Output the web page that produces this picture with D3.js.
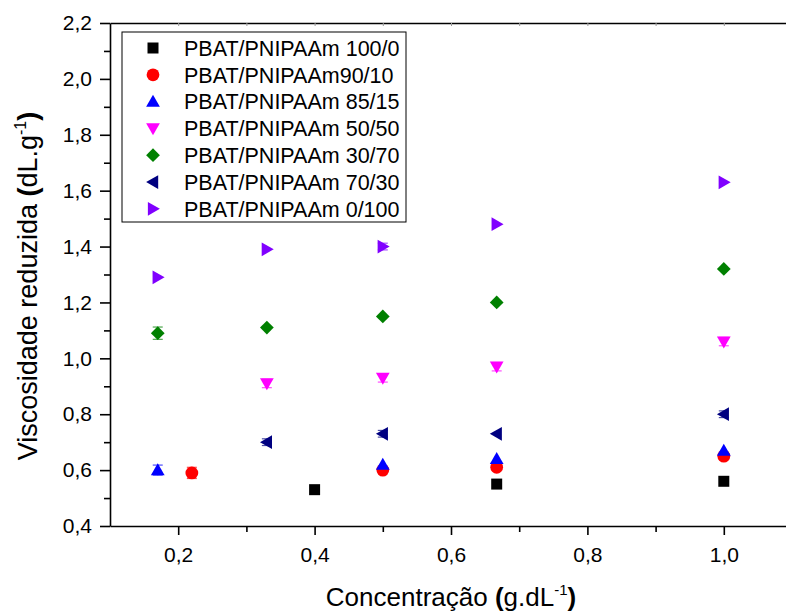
<!DOCTYPE html>
<html>
<head>
<meta charset="utf-8">
<script src="https://cdn.jsdelivr.net/npm/d3@7"></script>
<style>
  body { margin: 0; background: #fff; }
  svg { font-family: "Liberation Sans", Arial, sans-serif; }
  .tick text { font-size: 21px; fill: #000; font-family: "Liberation Sans", Arial, sans-serif; }
  .domain, .tick line { stroke: #000; stroke-width: 1.6px; }
</style>
</head>
<body>
<svg id="chart" width="786" height="614"></svg>
<script>
// series data, x = concentration (g/dL), y = reduced viscosity (dL/g)
var names = ['PBAT/PNIPAAm 100/0', 'PBAT/PNIPAAm90/10', 'PBAT/PNIPAAm 85/15',
             'PBAT/PNIPAAm 50/50', 'PBAT/PNIPAAm 30/70', 'PBAT/PNIPAAm 70/30',
             'PBAT/PNIPAAm 0/100'];
var colors = ['#000000', '#ff0000', '#0000ff', '#ff00ff', '#008000', '#000080', '#8000ff'];
var shapes = ['square', 'circle', 'up', 'down', 'diamond', 'left', 'right'];

var x100_0  = [0.4, 0.667, 1.0],        y100_0  = [0.53, 0.55, 0.56],        e100_0  = [0.005, 0.005, 0.005];
var x90_10  = [0.22, 0.5, 0.667, 1.0],  y90_10  = [0.59, 0.60, 0.61, 0.65],  e90_10  = [0.02, 0.008, 0.008, 0.008];
var x85_15  = [0.17, 0.5, 0.667, 1.0],  y85_15  = [0.60, 0.62, 0.64, 0.67],  e85_15  = [0.018, 0.008, 0.008, 0.008];
var x50_50  = [0.33, 0.5, 0.667, 1.0],  y50_50  = [0.91, 0.93, 0.97, 1.06],  e50_50  = [0.015, 0.015, 0.015, 0.015];
var x30_70  = [0.17, 0.33, 0.5, 0.667, 1.0], y30_70 = [1.09, 1.11, 1.15, 1.20, 1.32], e30_70 = [0.022, 0.005, 0.005, 0.005, 0.005];
var x70_30  = [0.33, 0.5, 0.667, 1.0],  y70_30  = [0.70, 0.73, 0.73, 0.80],  e70_30  = [0.012, 0.012, 0.005, 0.012];
var x0_100  = [0.17, 0.33, 0.5, 0.667, 1.0], y0_100 = [1.29, 1.39, 1.40, 1.48, 1.63], e0_100 = [0.005, 0.005, 0.012, 0.005, 0.005];

var xs = [x100_0, x90_10, x85_15, x50_50, x30_70, x70_30, x0_100];
var ys = [y100_0, y90_10, y85_15, y50_50, y30_70, y70_30, y0_100];
var es = [e100_0, e90_10, e85_15, e50_50, e30_70, e70_30, e0_100];

var xTicks = [0.2, 0.4, 0.6, 0.8, 1.0];
var yTicks = [0.4, 0.6, 0.8, 1.0, 1.2, 1.4, 1.6, 1.8, 2.0, 2.2];

var mLeft = 110, mRight = 792, mTop = 23, mBottom = 526;

var svg = d3.select("#chart");

var x = d3.scaleLinear().domain([0.1, 1.1]).range([mLeft, mRight]);
var y = d3.scaleLinear().domain([0.4, 2.2]).range([mBottom, mTop]);

var comma = function(d) { return d3.format(".1f")(d).replace(".", ","); };

// minor ticks first
svg.append("g")
    .attr("transform", "translate(0," + mBottom + ")")
    .call(d3.axisBottom(x).tickValues([0.3, 0.5, 0.7, 0.9]).tickSize(6).tickFormat(""))
    .select(".domain").remove();
svg.append("g")
    .attr("transform", "translate(" + mLeft + ",0)")
    .call(d3.axisLeft(y).tickValues([0.5, 0.7, 0.9, 1.1, 1.3, 1.5, 1.7, 1.9, 2.1]).tickSize(6).tickFormat(""))
    .select(".domain").remove();

// top mirror line with small ticks
var topAxis = svg.append("g")
    .attr("transform", "translate(0," + mTop + ")")
    .call(d3.axisTop(x).tickValues([0.2, 0.3, 0.4, 0.5, 0.6, 0.7, 0.8, 0.9, 1.0]).tickSize(-3).tickSizeOuter(0).tickFormat(""));
topAxis.selectAll(".tick line").style("stroke", "#999").style("stroke-width", "1px");

// main axes
svg.append("g")
    .attr("transform", "translate(0," + mBottom + ")")
    .call(d3.axisBottom(x).tickValues(xTicks).tickSize(9).tickSizeOuter(0).tickPadding(12).tickFormat(comma));
svg.append("g")
    .attr("transform", "translate(" + mLeft + ",0)")
    .call(d3.axisLeft(y).tickValues(yTicks).tickSize(10).tickSizeOuter(0).tickPadding(8).tickFormat(comma));

// axis titles
var xt = svg.append("text")
    .attr("x", 451).attr("y", 606)
    .attr("text-anchor", "middle")
    .style("font-size", "26px");
xt.append("tspan").text("Concentração ");
xt.append("tspan").style("font-weight", "bold").text("(");
xt.append("tspan").text("g.dL");
xt.append("tspan").attr("dy", -11).style("font-size", "15px").text("-1");
xt.append("tspan").attr("dy", 11).style("font-weight", "bold").text(")");

var yt = svg.append("text")
    .attr("transform", "translate(37,286)rotate(-90)")
    .attr("text-anchor", "middle")
    .style("font-size", "27px");
yt.append("tspan").text("Viscosidade reduzida ");
yt.append("tspan").style("font-weight", "bold").text("(");
yt.append("tspan").text("dL.g");
yt.append("tspan").attr("dy", -11).style("font-size", "16px").text("-1");
yt.append("tspan").attr("dy", 11).style("font-weight", "bold").text(")");

// symbol path generator, centered at 0,0
function symbolPath(s, r) {
  if (s == 'square') return "M" + (-r) + "," + (-r) + "H" + r + "V" + r + "H" + (-r) + "Z";
  if (s == 'circle') return d3.symbol().type(d3.symbolCircle).size(Math.PI * r * r * 1.35)();
  var k = r * 1.25;
  if (s == 'up') return "M0," + (-k) + "L" + k + "," + (k * 0.75) + "L" + (-k) + "," + (k * 0.75) + "Z";
  if (s == 'down') return "M0," + k + "L" + k + "," + (-k * 0.75) + "L" + (-k) + "," + (-k * 0.75) + "Z";
  if (s == 'left') return "M" + (-k) + ",0L" + (k * 0.75) + "," + (-k) + "L" + (k * 0.75) + "," + k + "Z";
  if (s == 'right') return "M" + k + ",0L" + (-k * 0.75) + "," + (-k) + "L" + (-k * 0.75) + "," + k + "Z";
  if (s == 'diamond') return "M0," + (-k) + "L" + k + ",0L0," + k + "L" + (-k) + ",0Z";
}

// points with error bars
names.forEach(function(n, si) {
  var pts = xs[si].map(function(v, i) { return { x: v, y: ys[si][i], e: es[si][i] }; });
  var g = svg.append("g");
  var eb = g.selectAll(".err").data(pts).enter().append("g").attr("class", "err")
      .style("stroke", colors[si]).style("stroke-opacity", 0.7).style("stroke-width", 1.2);
  eb.append("line")
      .attr("x1", function(d) { return x(d.x); }).attr("x2", function(d) { return x(d.x); })
      .attr("y1", function(d) { return y(d.y - d.e); }).attr("y2", function(d) { return y(d.y + d.e); });
  eb.filter(function(d) { return d.e > 0.01; }).append("line")
      .attr("x1", function(d) { return x(d.x) - 5; }).attr("x2", function(d) { return x(d.x) + 5; })
      .attr("y1", function(d) { return y(d.y + d.e); }).attr("y2", function(d) { return y(d.y + d.e); });
  eb.filter(function(d) { return d.e > 0.01; }).append("line")
      .attr("x1", function(d) { return x(d.x) - 5; }).attr("x2", function(d) { return x(d.x) + 5; })
      .attr("y1", function(d) { return y(d.y - d.e); }).attr("y2", function(d) { return y(d.y - d.e); });
  g.selectAll(".pt").data(pts).enter().append("path").attr("class", "pt")
      .attr("transform", function(d) { return "translate(" + x(d.x) + "," + y(d.y) + ")"; })
      .attr("d", symbolPath(shapes[si], 5.5))
      .style("fill", colors[si]);
});

// legend
var leg = svg.append("g").attr("transform", "translate(122,32)");
leg.append("rect").attr("width", 284).attr("height", 190)
    .style("fill", "#fff").style("stroke", "#000").style("stroke-width", 1);
var row = leg.selectAll(".row").data(names).enter().append("g").attr("class", "row")
    .attr("transform", function(d, i) { return "translate(0," + (16 + i * 26.8) + ")"; });
row.append("path")
    .attr("transform", "translate(31,0)")
    .attr("d", function(d, i) { return symbolPath(shapes[i], 5.5); })
    .style("fill", function(d, i) { return colors[i]; });
row.append("text")
    .attr("x", 62).attr("dy", "0.36em")
    .style("font-size", "21.5px")
    .text(function(d) { return d; });
</script>
</body>
</html>
